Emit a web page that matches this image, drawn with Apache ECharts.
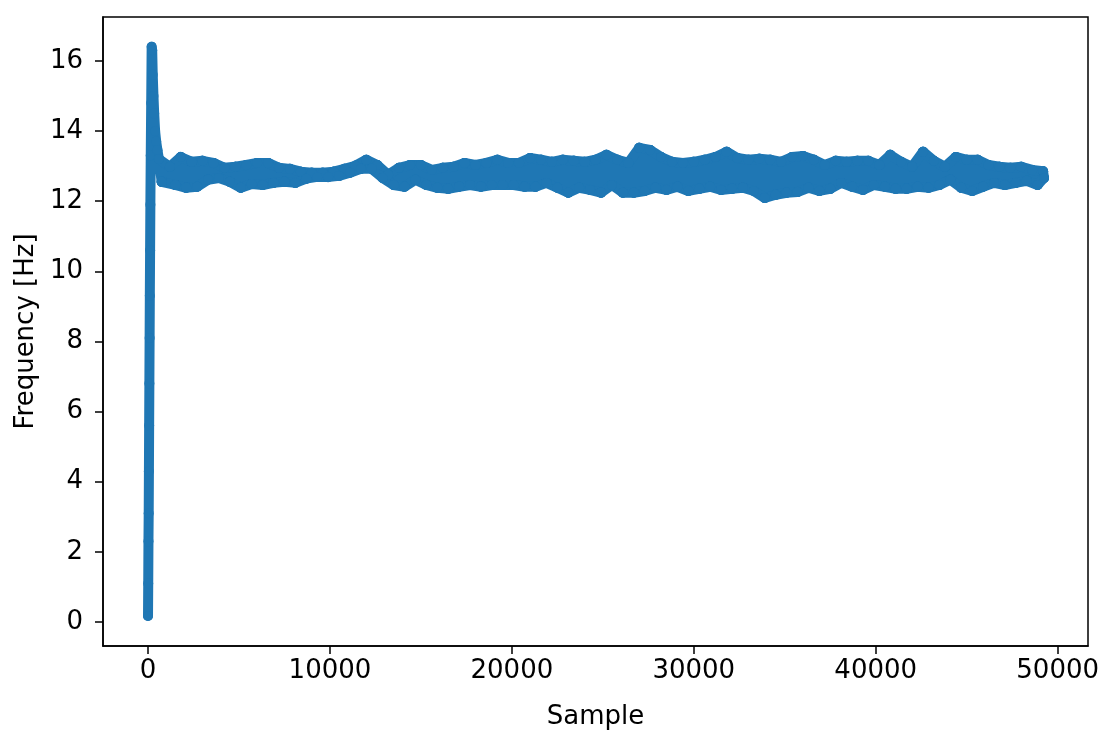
<!DOCTYPE html>
<html>
<head>
<meta charset="utf-8">
<script src="https://cdn.jsdelivr.net/npm/echarts@6/dist/echarts.min.js"></script>
<style>html,body{margin:0;padding:0;background:#fff}#c{width:1105px;height:731px}</style>
</head>
<body>
<div id="c"></div>
<script>
// Start-up spike: rise then decay (sample index, Hz)
const spikeSamples = [0, 12, 25, 38, 50, 62, 75, 88, 100, 115, 130, 150, 175, 200, 230, 260, 300, 340, 390, 450, 520];
const spikeHz      = [0.17, 1.1, 2.3, 3.1, 4.3, 5.6, 6.8, 8.1, 9.3, 10.6, 11.9, 13.3, 14.8, 16.4, 16.3, 15.6, 15.0, 14.5, 14.0, 13.7, 13.45];

// Steady-state band (alternating upper / lower readings of the noisy band)
const bandSamples = [
  600, 750, 1200, 1500, 1800, 2100, 2400, 2700, 3000, 3300,
  3600, 3900, 4200, 4500, 4800, 5100, 5400, 5700, 6000, 6300,
  6600, 6900, 7200, 7500, 7800, 8100, 8400, 8700, 9000, 9300,
  9600, 9900, 10200, 10500, 10800, 11100, 11400, 11700, 12000, 12300,
  12600, 12900, 13200, 13500, 13800, 14100, 14400, 14700, 15000, 15300,
  15600, 15900, 16200, 16500, 16800, 17100, 17400, 17700, 18000, 18300,
  18600, 18900, 19200, 19500, 19800, 20100, 20400, 20700, 21000, 21300,
  21600, 21900, 22200, 22500, 22800, 23100, 23400, 23700, 24000, 24300,
  24600, 24900, 25200, 25500, 25800, 26100, 26400, 26700, 27000, 27300,
  27600, 27900, 28200, 28500, 28800, 29100, 29400, 29700, 30000, 30300,
  30600, 30900, 31200, 31500, 31800, 32100, 32400, 32700, 33000, 33300,
  33600, 33900, 34200, 34500, 34800, 35100, 35400, 35700, 36000, 36300,
  36600, 36900, 37200, 37500, 37800, 38100, 38400, 38700, 39000, 39300,
  39600, 39900, 40200, 40500, 40800, 41100, 41400, 41700, 42000, 42300,
  42600, 42900, 43200, 43500, 43800, 44100, 44400, 44700, 45000, 45300,
  45600, 45900, 46200, 46500, 46800, 47100, 47400, 47700, 48000, 48300,
  48600, 48900, 49200, 49250
];
const bandHz = [
  13.20, 12.55, 12.98, 12.46, 13.26, 12.38, 13.12, 12.41, 13.15, 12.61,
  13.09, 12.66, 12.95, 12.55, 12.98, 12.38, 13.03, 12.49, 13.09, 12.46,
  13.09, 12.52, 12.95, 12.55, 12.92, 12.52, 12.84, 12.64, 12.81, 12.69,
  12.81, 12.69, 12.84, 12.72, 12.92, 12.81, 13.01, 12.92, 13.18, 12.92,
  13.03, 12.66, 12.75, 12.46, 12.95, 12.41, 13.03, 12.61, 13.03, 12.46,
  12.89, 12.38, 12.95, 12.35, 12.98, 12.41, 13.09, 12.46, 13.03, 12.41,
  13.09, 12.46, 13.18, 12.46, 13.09, 12.46, 13.09, 12.41, 13.23, 12.41,
  13.18, 12.52, 13.12, 12.38, 13.18, 12.24, 13.15, 12.38, 13.12, 12.32,
  13.18, 12.24, 13.32, 12.46, 13.18, 12.24, 13.09, 12.24, 13.52, 12.29,
  13.46, 12.38, 13.26, 12.32, 13.12, 12.41, 13.09, 12.29, 13.12, 12.35,
  13.18, 12.41, 13.26, 12.32, 13.41, 12.35, 13.23, 12.38, 13.18, 12.29,
  13.21, 12.09, 13.18, 12.18, 13.12, 12.24, 13.26, 12.26, 13.29, 12.38,
  13.18, 12.29, 13.03, 12.35, 13.15, 12.52, 13.12, 12.41, 13.15, 12.32,
  13.15, 12.46, 13.03, 12.41, 13.32, 12.35, 13.12, 12.35, 12.98, 12.41,
  13.41, 12.38, 13.15, 12.46, 12.98, 12.61, 13.26, 12.38, 13.18, 12.29,
  13.18, 12.41, 13.03, 12.52, 12.98, 12.46, 12.95, 12.52, 12.98, 12.58,
  12.89, 12.46, 12.85, 12.66
];

// Axis ticks
const xTicks = [0, 10000, 20000, 30000, 40000, 50000];
const yTicks = [0, 2, 4, 6, 8, 10, 12, 14, 16];

const allPts = [];
spikeSamples.forEach((s, i) => allPts.push([s, spikeHz[i]]));
bandSamples.forEach((s, i) => allPts.push([s, bandHz[i]]));
// upper and lower edges of the band (the alternating readings)
const upperPts = [], lowerPts = [];
bandSamples.forEach((s, i) => (i % 2 === 0 ? upperPts : lowerPts).push([s, bandHz[i]]));

const FONT = 'DejaVu Sans';
const FS = 26;
const BLUE = '#1f77b4';
function bandSeries(data) {
  return {
    type: 'line', data: data, symbol: 'circle', symbolSize: 10, showSymbol: true,
    itemStyle: {color: BLUE}, lineStyle: {color: BLUE, width: 10, cap: 'round', join: 'round'},
    silent: true, clip: false, z: 2
  };
}
const chart = echarts.init(document.getElementById('c'), null, {renderer: 'canvas'});
chart.setOption({
  animation: false,
  backgroundColor: '#ffffff',
  grid: {left: 103, right: 17, top: 17, bottom: 85, containLabel: false, outerBoundsMode: 'none',
    show: true, borderColor: '#000', borderWidth: 1.5, backgroundColor: 'transparent'},
  xAxis: {
    type: 'value', min: -2474, max: 51668,
    name: 'Sample', nameLocation: 'middle', nameGap: 58,
    nameTextStyle: {fontFamily: FONT, fontSize: FS, color: '#000'},
    splitLine: {show: false},
    axisLine: {show: true, onZero: false, lineStyle: {color: '#000', width: 1.5}},
    axisTick: {show: true, inside: false, length: 8, lineStyle: {color: '#000', width: 1.5}, customValues: xTicks},
    axisLabel: {fontFamily: FONT, fontSize: FS, color: '#000', margin: 12, customValues: xTicks,
      formatter: v => String(v)}
  },
  yAxis: {
    type: 'value', min: -0.684, max: 17.25,
    name: 'Frequency [Hz]', nameLocation: 'middle', nameGap: 64, nameRotate: 90,
    nameTextStyle: {fontFamily: FONT, fontSize: FS, color: '#000'},
    splitLine: {show: false},
    axisLine: {show: true, onZero: false, lineStyle: {color: '#000', width: 1.5}},
    axisTick: {show: true, inside: false, length: 8, lineStyle: {color: '#000', width: 1.5}, customValues: yTicks},
    axisLabel: {fontFamily: FONT, fontSize: FS, color: '#000', margin: 20, customValues: yTicks,
      formatter: v => String(v)}
  },
  series: [bandSeries(allPts), bandSeries(upperPts), bandSeries(lowerPts)]
});
</script>
</body>
</html>
